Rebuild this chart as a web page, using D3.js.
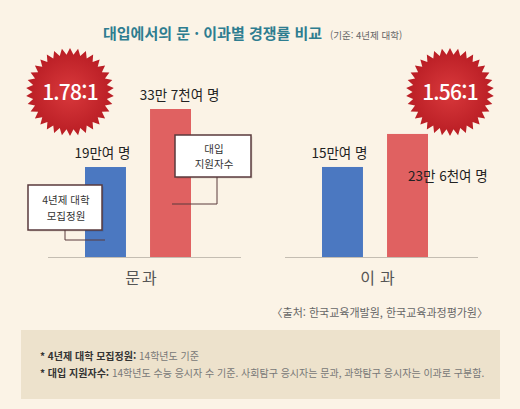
<!doctype HTML>
<html lang="ko">
<head>
<meta charset="utf-8">
<title>대입에서의 문·이과별 경쟁률 비교</title>
<script src="https://d3js.org/d3.v7.min.js"></script>
<style type="text/css">
  body { margin: 0; background: #fbf3e6; }
  svg text { font-family: "Noto Sans CJK KR", "Noto Sans", sans-serif; }
</style>
</head>
<body>
<script type="text/javascript">

// chart data
var groups = ["문과", "이과"];
var series = ["모집정원", "지원자수"];
var quota = [190000, 150000];        // 4년제 대학 모집정원
var applicants = [337000, 236000];   // 대입 지원자수
var valueLabels = [["19만여 명", "33만 7천여 명"], ["15만여 명", "23만 6천여 명"]];
var ratioLabels = ["1.78:1", "1.56:1"];
// the picture is not drawn to scale, so each group has its own y domain
var yDomains = [[-38000, 337000], [-84500, 301000]];
var calloutLines = [["4년제 대학", "모집정원"], ["대입", "지원자수"]];
var footnotes = [
	["* 4년제 대학 모집정원:", " 14학년도 기준"],
	["* 대입 지원자수:", " 14학년도 수능 응시자 수 기준. 사회탐구 응시자는 문과, 과학탐구 응시자는 이과로 구분함."]
];

var width = 520, height = 409;
var baseline = 257;
var colors = ["#4b78c1", "#e06161"];

var svg = d3.select("body").append("svg")
	.attr("width", width)
	.attr("height", height);

var defs = svg.append("defs");
var grad = defs.append("radialGradient").attr("id", "burst");
grad.append("stop").attr("offset", "0%").attr("stop-color", "#d9393c");
grad.append("stop").attr("offset", "100%").attr("stop-color", "#b91d24");

svg.append("rect")
	.attr("width", width).attr("height", height)
	.attr("fill", "#fbf3e6");

// title
var title = svg.append("text")
	.attr("x", 103).attr("y", 39);
title.append("tspan")
	.attr("font-size", 15).attr("font-weight", "bold").attr("fill", "#2e7d90")
	.text("대입에서의 문 · 이과별 경쟁률 비교");
title.append("tspan")
	.attr("dx", 8)
	.attr("font-size", 9.5).attr("fill", "#666")
	.text("(기준: 4년제 대학)");

// scales
var x = d3.scaleBand().domain(groups).range([19.5, 493.5]);
var xInner = d3.scaleBand().domain(series).range([-53, 53]).paddingInner(0.37);

var rows = groups.map(function(g, i) {
	return {
		group: g,
		index: i,
		y: d3.scaleLinear().domain(yDomains[i]).range([baseline, 109]),
		values: [quota[i], applicants[i]]
	};
});

// base lines
svg.append("g").selectAll("line")
	.data(rows)
	.enter().append("line")
	.attr("x1", function(d) { return x(d.group) + x.bandwidth() / 2 - 90; })
	.attr("x2", function(d) { return x(d.group) + x.bandwidth() / 2 + 103; })
	.attr("y1", baseline + 0.5).attr("y2", baseline + 0.5)
	.attr("stroke", "#c4bdb2").attr("stroke-width", 1);

// bars
rows.forEach(function(row) {
	var cx = x(row.group) + x.bandwidth() / 2;
	var g = svg.append("g");

	g.selectAll("rect")
		.data(row.values)
		.enter().append("rect")
		.attr("x", function(d, j) { return cx + xInner(series[j]); })
		.attr("y", function(d) { return row.y(d); })
		.attr("width", xInner.bandwidth())
		.attr("height", function(d) { return baseline - row.y(d); })
		.attr("fill", function(d, j) { return colors[j]; });

	g.selectAll("text")
		.data(row.values)
		.enter().append("text")
		.attr("font-size", 13.5)
		.attr("fill", "#222")
		.attr("text-anchor", function(d, j) { return (row.index == 1 && j == 1) ? "start" : "middle"; })
		.attr("x", function(d, j) {
			var bx = cx + xInner(series[j]);
			if (row.index == 1 && j == 1) return bx + 21;
			if (j == 1) return bx + xInner.bandwidth() / 2 + 9;
			return bx + xInner.bandwidth() / 2 - 3;
		})
		.attr("y", function(d, j) {
			if (row.index == 1 && j == 1) return row.y(d) + 47;
			return row.y(d) - 9;
		})
		.text(function(d, j) { return valueLabels[row.index][j]; });

	// category label
	svg.append("text")
		.attr("x", cx + (row.index == 0 ? 4 : 5)).attr("y", 284)
		.attr("text-anchor", "middle")
		.attr("font-size", 16).attr("fill", "#555")
		.attr("letter-spacing", row.index == 0 ? 2 : 5)
		.text(row.group);
});

// callouts (left group only)
var left = rows[0];
var lcx = x(left.group) + x.bandwidth() / 2;
var callouts = [
	{ box: [28, 185, 74, 45], lead: [[65, 230], [65, 240], [lcx + xInner(series[0]) + 20, 240]] },
	{ box: [175, 135, 76, 42], lead: [[217, 177], [217, 204], [lcx + xInner(series[1]) + 22, 204]] }
];
callouts.forEach(function(c, i) {
	var g = svg.append("g");
	g.append("path")
		.attr("d", d3.line()(c.lead))
		.attr("fill", "none").attr("stroke", "#5a3a3c").attr("stroke-width", 1);
	g.append("rect")
		.attr("x", c.box[0] + 1.5).attr("y", c.box[1] + 1.5)
		.attr("width", c.box[2]).attr("height", c.box[3])
		.attr("fill", "rgba(0,0,0,0.12)");
	g.append("rect")
		.attr("x", c.box[0]).attr("y", c.box[1])
		.attr("width", c.box[2]).attr("height", c.box[3])
		.attr("fill", "#fff").attr("stroke", "#5a3a3c").attr("stroke-width", 1.5);
	var cx = c.box[0] + c.box[2] / 2 + 1;
	g.append("text")
		.attr("y", c.box[1] + c.box[3] / 2 - 3.5)
		.attr("text-anchor", "middle")
		.attr("font-size", 10.5).attr("fill", "#333")
		.selectAll("tspan")
		.data(calloutLines[i])
		.enter().append("tspan")
		.attr("x", cx)
		.attr("dy", function(d, k) { return k == 0 ? 0 : 15.5; })
		.text(function(d) { return d; });
});

// ratio starbursts
var spikes = 34;
var starPoints = d3.range(spikes * 2).map(function(k) {
	return [k * Math.PI / spikes, k % 2 == 0 ? 44 : 37.5];
});
var star = d3.lineRadial().curve(d3.curveLinearClosed);
var burstPos = [[70, 92], [450, 92]];

svg.append("g").selectAll("g")
	.data(ratioLabels)
	.enter().append("g")
	.attr("transform", function(d, i) { return "translate(" + burstPos[i][0] + "," + burstPos[i][1] + ")"; })
	.each(function(d) {
		var g = d3.select(this);
		g.append("path").attr("d", star(starPoints)).attr("fill", "url(#burst)");
		g.append("text")
			.attr("text-anchor", "middle").attr("y", 8)
			.attr("font-size", 21).attr("font-weight", 500).attr("fill", "#fff")
			.attr("letter-spacing", -0.8)
			.attr("font-family", "Roboto, 'Noto Sans', sans-serif")
			.text(d);
	});

// source
svg.append("text")
	.attr("x", 488).attr("y", 317)
	.attr("text-anchor", "end")
	.attr("font-size", 11).attr("fill", "#666")
	.text("〈출처: 한국교육개발원, 한국교육과정평가원〉");

// footnote box
svg.append("rect")
	.attr("x", 21).attr("y", 330).attr("width", 479).attr("height", 69)
	.attr("fill", "#ede2cc");

svg.append("g").selectAll("text")
	.data(footnotes)
	.enter().append("text")
	.attr("x", 40)
	.attr("y", function(d, i) { return 360 + i * 17; })
	.attr("font-size", 10)
	.each(function(d) {
		var t = d3.select(this);
		t.append("tspan").attr("font-weight", "bold").attr("fill", "#333").text(d[0]);
		t.append("tspan").attr("fill", "#777").text(d[1]);
	});

</script>
</body>
</html>
